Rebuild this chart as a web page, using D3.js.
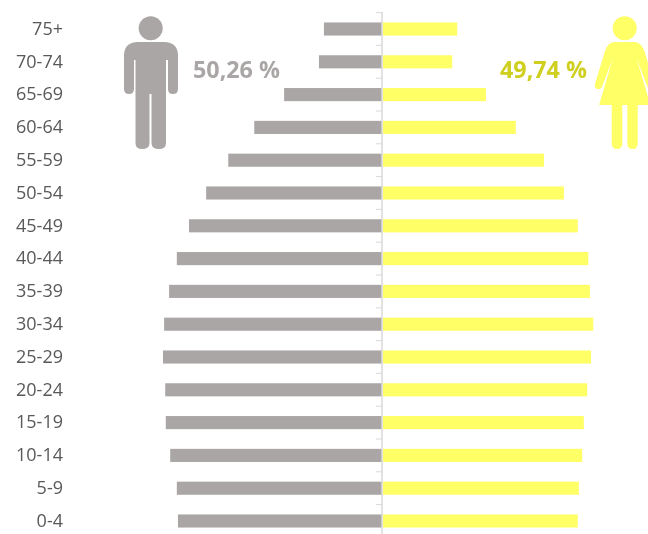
<!DOCTYPE html>
<html>
<head>
<meta charset="utf-8">
<script src="https://d3js.org/d3.v7.min.js"></script>
<style>
html, body { margin: 0; padding: 0; background: #fff; overflow: hidden; }
svg { display: block; filter: blur(0.5px); }
text { font-family: "Open Sans", sans-serif; }
</style>
</head>
<body>
<div class="container"></div>
<script>
const WIDTH = 648;
const HEIGHT = 534;
const CENTER = 382;

const GREY = '#aba6a6';
const YELLOW = '#ffff66';

// age groups, top to bottom
const ageGroups = ['75+', '70-74', '65-69', '60-64', '55-59', '50-54', '45-49', '40-44',
    '35-39', '30-34', '25-29', '20-24', '15-19', '10-14', '5-9', '0-4'];

// share of population, %
const men = [1.05, 1.14, 1.77, 2.31, 2.78, 3.18, 3.49, 3.71, 3.85, 3.94, 3.96, 3.92, 3.91, 3.83, 3.71, 3.69];
const women = [1.36, 1.27, 1.88, 2.42, 2.93, 3.29, 3.54, 3.73, 3.76, 3.82, 3.78, 3.71, 3.65, 3.62, 3.56, 3.54];

const menTotal = '50,26 %';
const womenTotal = '49,74 %';

var svg = d3.select('.container').append('svg')
    .attr('width', WIDTH)
    .attr('height', HEIGHT);

var xScale = d3.scaleLinear()
    .domain([-4, 4])
    .range([CENTER - 221.2, CENTER + 221.2]);

var yScale = d3.scaleBand()
    .domain(ageGroups)
    .range([12.6, 537.4])
    .paddingInner(0.6)
    .paddingOuter(0.3);

// bars
svg.selectAll('.men')
    .data(men)
    .enter().append('rect')
    .attr('class', 'men')
    .attr('x', function (d) { return xScale(-d); })
    .attr('y', function (d, i) { return yScale(ageGroups[i]); })
    .attr('width', function (d) { return xScale(0) - xScale(-d); })
    .attr('height', yScale.bandwidth())
    .attr('fill', GREY);

svg.selectAll('.women')
    .data(women)
    .enter().append('rect')
    .attr('class', 'women')
    .attr('x', xScale(0) + 1)
    .attr('y', function (d, i) { return yScale(ageGroups[i]); })
    .attr('width', function (d) { return xScale(d) - xScale(0) - 1; })
    .attr('height', yScale.bandwidth())
    .attr('fill', YELLOW);

// centre axis with ticks between the bands
var step = yScale.step();
var axisG = svg.append('g');
axisG.append('line')
    .attr('x1', CENTER).attr('x2', CENTER)
    .attr('y1', 12).attr('y2', HEIGHT)
    .attr('stroke', '#d9d9d9')
    .attr('stroke-width', 1.5);
axisG.selectAll('.tick-mark')
    .data(ageGroups)
    .enter().append('line')
    .attr('class', 'tick-mark')
    .attr('x1', CENTER - 6).attr('x2', CENTER)
    .attr('y1', function (d) { return yScale(d) + yScale.bandwidth() / 2 - step / 2; })
    .attr('y2', function (d) { return yScale(d) + yScale.bandwidth() / 2 - step / 2; })
    .attr('stroke', '#d9d9d9')
    .attr('stroke-width', 1);

// age labels
var yAxis = d3.axisLeft(yScale).tickSize(0).tickPadding(0);
var labels = svg.append('g')
    .attr('transform', 'translate(63,0)')
    .call(yAxis);
labels.select('.domain').remove();
labels.selectAll('text')
    .attr('font-size', 18)
    .attr('fill', '#595959')
    .style('font-family', '"Open Sans", sans-serif');

// totals
svg.append('text')
    .attr('x', 193).attr('y', 78)
    .attr('font-size', 23.3)
    .attr('font-weight', 700)
    .attr('fill', GREY)
    .text(menTotal);

svg.append('text')
    .attr('x', 500).attr('y', 78)
    .attr('font-size', 23.3)
    .attr('font-weight', 700)
    .attr('fill', '#cfcf1f')
    .text(womenTotal);

// man icon
svg.append('circle').attr('cx', 150.7).attr('cy', 28.3).attr('r', 12).attr('fill', GREY);
svg.append('path')
    .attr('fill', GREY)
    .attr('d', 'M138,42 H164 Q178,42 178,56 V89 Q178,94 173,94 Q168,94 168,89 V60 H166 V143 '
        + 'Q166,149 159,149 Q151.5,149 151.5,143 V94 H149.5 V143 Q149.5,149 142,149 '
        + 'Q135.5,149 135.5,143 V60 H134 V89 Q134,94 129,94 Q124,94 124,89 V56 Q124,42 138,42 Z');

// woman icon
svg.append('circle').attr('cx', 624.7).attr('cy', 28.3).attr('r', 12).attr('fill', YELLOW);
svg.append('path')
    .attr('fill', YELLOW)
    .attr('d', 'M615,42 H634.4 Q641,42 644.4,51 L654.4,84 Q655,87 652,89 Q649,90 647.5,87 L636.5,58 '
        + 'L650.4,105 H637.7 V143 Q637.7,149 632.5,149 Q627.3,149 627.3,143 V105 H622.3 V143 '
        + 'Q622.3,149 617,149 Q611.7,149 611.7,143 V105 H599 L613,58 L602,87 Q600,90 597,89 '
        + 'Q594,87 595,84 L605,51 Q608,42 615,42 Z');
</script>
</body>
</html>
